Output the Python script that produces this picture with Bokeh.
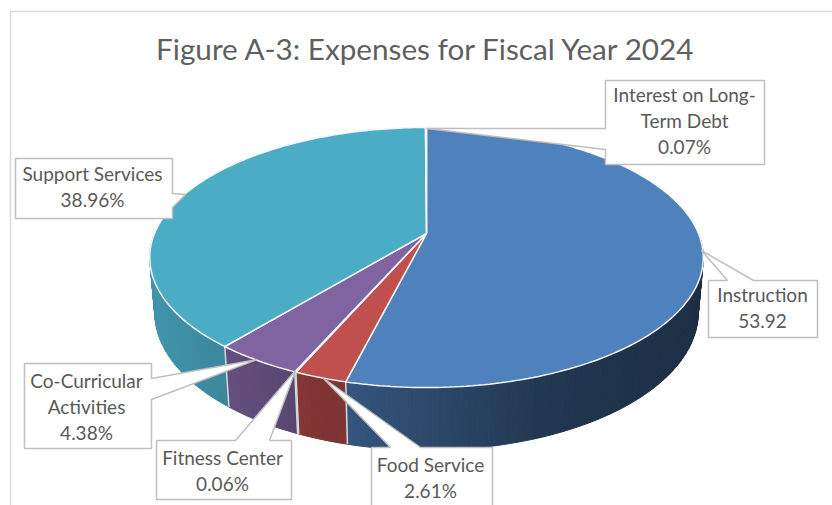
import numpy as np
from bokeh.plotting import figure
from bokeh.models import Range1d
from bokeh.core.properties import value
from bokeh.embed import file_html
from bokeh.resources import INLINE

# ---- data (clockwise from 12 o'clock) ----
categories = ["Instruction", "Food Service", "Fitness Center",
              "Co-Curricular Activities", "Support Services",
              "Interest on Long-Term Debt"]
shares = [53.92, 2.61, 0.06, 4.38, 38.96, 0.07]
top_colors = ["#4F81BD", "#C0504D", "#9BBB59", "#8064A2", "#4BACC6", "#F79646"]
label_lines = [["Instruction", "53.92"], ["Food Service", "2.61%"],
               ["Fitness Center", "0.06%"], ["Co-Curricular", "Activities", "4.38%"],
               ["Support Services", "38.96%"],
               ["Interest on Long-", "Term Debt", "0.07%"]]
title = "Figure A-3: Expenses for Fiscal Year 2024"

# ---- callout geometry (pixels in the picture) ----
callouts = [
    [(708, 280), (727, 280), (701, 250), (753, 280), (817, 280), (817, 337), (708, 337)],
    [(371, 447), (390, 447), (322, 377), (420, 447), (492, 447), (492, 520), (371, 520)],
    [(156, 440), (235, 440), (295, 370), (269, 440), (291, 440), (291, 499), (156, 499)],
    [(24, 363), (151, 363), (151, 378), (257, 359), (151, 399), (151, 448), (24, 448)],
    [(15, 158), (172, 158), (172, 193), (185, 194), (172, 207), (172, 218), (15, 218)],
    [(605, 80), (764, 80), (764, 164), (605, 164), (605, 149), (426, 128), (605, 128)],
]
label_centers = [(762, 294), (430, 464), (222, 457), (86, 380), (92, 173), (684, 94)]
line_step = 26

# ---- projection of the tilted disc ----
CX, CY, A, B, K = 426.0, 233.0, 272.0, 125.6, 0.1846
DEPTH_C, DEPTH_D = 0.018, 55.0


def project(theta_deg, bottom=False):
    t = np.radians(theta_deg)
    u, v = np.sin(t), np.cos(t)
    c, d = (DEPTH_C, DEPTH_D) if bottom else (0.0, 0.0)
    w = 1 + K * v + c
    return CX + A * u / w, CY + (d - B * v) / w


def shade_color(hex_color, x):
    f = np.interp(x, [150, 190, 260, 320, 345, 550, 700],
                  [.86, .82, .74, .65, .66, .42, .36])
    rgb = [int(hex_color[i:i + 2], 16) for i in (1, 3, 5)]
    return "#%02x%02x%02x" % tuple(int(round(c * f)) for c in rgb)


p = figure(width=832, height=505, output_backend="svg", toolbar_location=None,
           x_range=Range1d(0, 832), y_range=Range1d(505, 0),
           x_axis_type=None, y_axis_type=None, min_border=0,
           outline_line_color=None, background_fill_color="white")
p.grid.visible = False

# frame
p.line([10, 10, 832], [505, 11, 11], line_color="#D9D9D9", line_width=1.5)

edges = np.concatenate([[0], np.cumsum(shares)]) * 3.6

# side wall in thin strips so it can carry a gradient
sx, sy, sc = [], [], []
for i, color in enumerate(top_colors):
    a0, a1 = max(edges[i], 90), min(edges[i + 1], 270)
    if a1 <= a0:
        continue
    steps = np.arange(a0, a1, 1.0).tolist() + [a1]
    for s0, s1 in zip(steps[:-1], steps[1:]):
        x0, y0 = project(s0)
        x1, y1 = project(s1)
        x2, y2 = project(s1, True)
        x3, y3 = project(s0, True)
        sx.append([x0, x1, x2, x3])
        sy.append([y0, y1, y2, y3])
        sc.append(shade_color(color, (x0 + x1) / 2))
p.patches(sx, sy, fill_color=sc, line_color=sc, line_width=1)

# dividers on the wall
for a in edges[1:-1]:
    if 100 < a < 260:
        x0, y0 = project(a)
        x1, y1 = project(a, True)
        p.line([x0, x1], [y0, y1], line_color="#D5D9DE", line_width=1.5)

# top face
for i, color in enumerate(top_colors):
    th = np.linspace(edges[i], edges[i + 1], max(int(shares[i] * 3.6), 2) + 1)
    x, y = project(th)
    p.patch(np.r_[CX, x], np.r_[CY, y], fill_color=color,
            line_color="#F4F6F9", line_width=1.5)

# callouts
for poly, lines, (cx, cy) in zip(callouts, label_lines, label_centers):
    xs, ys = zip(*poly)
    p.patch(list(xs), list(ys), fill_color="white", line_color="#BFBFBF", line_width=1.5)
    for j, txt in enumerate(lines):
        p.text([cx], [cy + j * line_step], text=[txt], text_font=value("Lato"),
               text_font_size="19px", text_color="#595959",
               text_align="center", text_baseline="middle")

p.text([426], [48], text=[title], text_font=value("Lato"), text_font_size="29.7px",
       text_color="#5F5F5F", text_align="center", text_baseline="middle")

open("out.html", "w").write(file_html(p, INLINE))
